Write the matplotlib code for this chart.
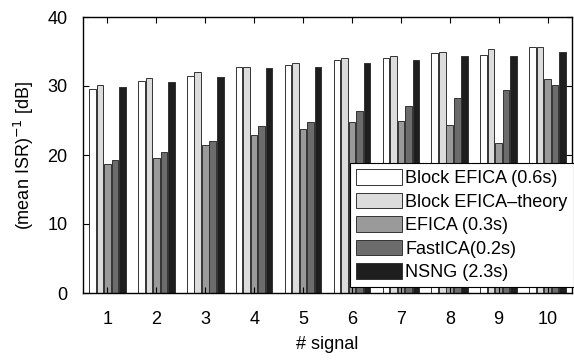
import matplotlib
matplotlib.use("Agg")
import matplotlib.pyplot as plt
import numpy as np

plt.rcParams['font.family'] = ['Liberation Sans', 'DejaVu Sans']

signals = [1, 2, 3, 4, 5, 6, 7, 8, 9, 10]
block_efica = [29.5, 30.7, 31.5, 32.7, 33.1, 33.7, 34.0, 34.8, 34.5, 35.7]
block_efica_theory = [30.2, 31.2, 32.0, 32.8, 33.4, 34.0, 34.4, 34.9, 35.3, 35.7]
efica = [18.7, 19.5, 21.4, 22.9, 23.7, 24.8, 24.9, 24.3, 21.7, 31.0]
fastica = [19.3, 20.4, 22.0, 24.2, 24.8, 26.4, 27.1, 28.3, 29.4, 30.1]
nsng = [29.8, 30.6, 31.3, 32.6, 32.7, 33.4, 33.7, 34.4, 34.4, 35.0]

labels = ["Block EFICA (0.6s)", "Block EFICA\u2013theory", "EFICA (0.3s)",
          "FastICA(0.2s)", "NSNG (2.3s)"]
series = [block_efica, block_efica_theory, efica, fastica, nsng]
colors = ["#ffffff", "#dcdcdc", "#9a9a9a", "#6c6c6c", "#1e1e1e"]

fig = plt.figure(figsize=(5.74, 3.61), dpi=100)
ax = fig.add_axes([83/574, 1-293/361, 489/574, 276/361])

x = np.array(signals, dtype=float)
slot = 0.153
bw = 0.135
for i, (vals, c, lab) in enumerate(zip(series, colors, labels)):
    ax.bar(x + (i - 2) * slot, vals, width=bw, color=c, edgecolor="#333333",
           linewidth=0.7, label=lab)

ax.set_xlim(0.5, 10.5)
ax.set_ylim(0, 40)
ax.set_xticks(signals)
ax.set_yticks([0, 10, 20, 30, 40])
ax.tick_params(direction='in', top=True, right=True, labelsize=13, length=4,
               width=0.8, pad=11)
ax.tick_params(axis='x', pad=13)
for s in ax.spines.values():
    s.set_linewidth(1.0)
ax.set_xlabel("# signal", fontsize=13, labelpad=6)
ax.set_ylabel("(mean ISR)$^{-1}$ [dB]", fontsize=13, labelpad=8)

leg = ax.legend(loc='upper left', bbox_to_anchor=(0.545, 0.471), fontsize=13,
                frameon=True, fancybox=False, framealpha=1, edgecolor='black',
                handlelength=2.55, handleheight=0.95, labelspacing=0.3,
                handletextpad=0.2, borderpad=0.35, borderaxespad=0)
leg.get_frame().set_linewidth(0.8)

fig.savefig("out.png", dpi=100)
